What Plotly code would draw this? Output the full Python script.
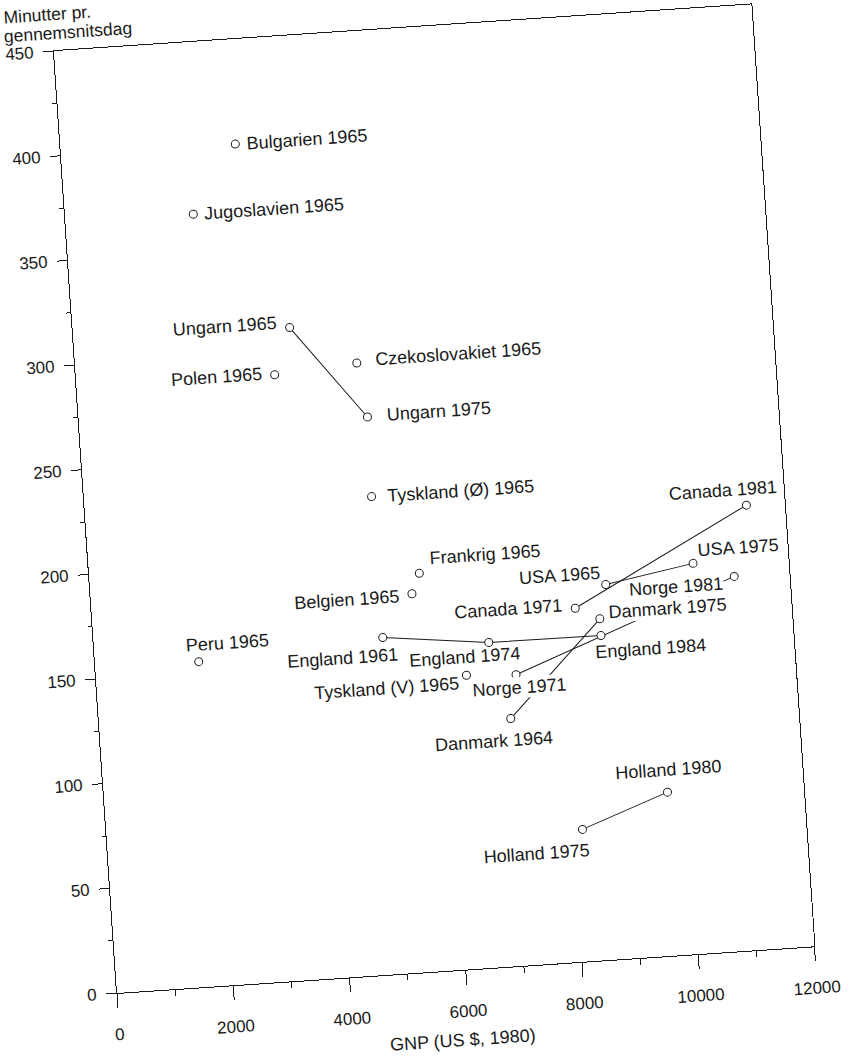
import plotly.graph_objects as go

countries = ["Bulgarien", "Jugoslavien", "Ungarn", "Czekoslovakiet", "Polen", "Ungarn",
             "Tyskland (Ø)", "Canada", "Frankrig", "USA", "Norge", "Belgien", "USA",
             "Canada", "Danmark", "England", "England", "England", "Peru", "Tyskland (V)",
             "Norge", "Danmark", "Holland", "Holland"]
years = [1965, 1965, 1965, 1965, 1965, 1975, 1965, 1981, 1965, 1975, 1981, 1965, 1965,
         1971, 1975, 1984, 1961, 1974, 1965, 1965, 1971, 1964, 1980, 1975]
gnp = [3000, 2200, 3720, 4830, 3410, 4950, 4930, 11340, 5660, 10360, 11050, 5510, 8840,
       8290, 8700, 8700, 4960, 6770, 1780, 6350, 7200, 7060, 9660, 8160]
minutes = [400, 368, 311, 292, 289, 266, 228, 212, 190, 186, 178.5, 180.5, 178.7,
           168.4, 162.6, 154.6, 160.6, 154.9, 155, 140, 138.7, 118, 78, 63]

x_ticks = [0, 2000, 4000, 6000, 8000, 10000, 12000]
y_ticks = [0, 50, 100, 150, 200, 250, 300, 350, 400, 450]

x_title = "GNP (US $, 1980)"
y_title = ["Minutter pr.", "gennemsnitsdag"]

# label placement per point: (xanchor, xshift, yshift, white background)
placement = [
    ("left", 10, 0, False), ("left", 10, 0, False), ("right", -12, 6, False),
    ("left", 18, 2, False), ("right", -12, 2, False), ("left", 19, 1, False),
    ("left", 15, 0, False), ("center", -23, 16, False), ("left", 10, 14, False),
    ("left", 5, 13, False), ("right", -11, -6, True), ("right", -12, -2, False),
    ("right", -4, 12, False), ("right", -12, 4, False), ("left", 8, 6, True),
    ("left", -8, -16, False), ("right", 15, -18, False), ("center", -25, -13, False),
    ("left", -13, 17, False), ("right", -7, -8, False), ("center", 3, -13, True),
    ("center", -18, -22, False), ("center", 2, 22, False), ("right", 7, -21, False),
]

INK = "#1a1a1a"
FONT = "Liberation Sans, Arial, sans-serif"

fig = go.Figure()

# connect observations of the same country, in year order
for c in dict.fromkeys(countries):
    idx = sorted([i for i, n in enumerate(countries) if n == c], key=lambda i: years[i])
    if len(idx) > 1:
        fig.add_trace(go.Scatter(
            x=[gnp[i] for i in idx], y=[minutes[i] for i in idx],
            mode="lines", line=dict(color=INK, width=1), hoverinfo="skip"))

fig.add_trace(go.Scatter(
    x=gnp, y=minutes, mode="markers",
    marker=dict(symbol="circle", size=8, color="white", line=dict(color=INK, width=1)),
    text=[f"{c} {y}" for c, y in zip(countries, years)], hoverinfo="text"))

for i, (c, yr) in enumerate(zip(countries, years)):
    anchor, dx, dy, bg = placement[i]
    fig.add_annotation(
        x=gnp[i], y=minutes[i], text=f"{c} {yr}", showarrow=False,
        xanchor=anchor, yanchor="middle", xshift=dx, yshift=dy,
        font=dict(size=18, color=INK, family=FONT),
        bgcolor="white" if bg else None, borderpad=0)

fig.add_annotation(x=0.5, y=0, xref="paper", yref="paper", text=x_title,
                   showarrow=False, yanchor="middle", yshift=-70, xshift=-8,
                   font=dict(size=18, color=INK, family=FONT))
fig.add_annotation(x=-0.0717, y=1.0395, xref="paper", yref="paper", text=y_title[0],
                   showarrow=False, xanchor="left", yanchor="middle",
                   font=dict(size=17.5, color=INK, family=FONT))
fig.add_annotation(x=-0.0735, y=1.0195, xref="paper", yref="paper", text=y_title[1],
                   showarrow=False, xanchor="left", yanchor="middle",
                   font=dict(size=17.5, color=INK, family=FONT))

axis_common = dict(showgrid=False, zeroline=False, showline=True, mirror=True,
                   linecolor=INK, linewidth=1, ticks="outside", tickcolor=INK,
                   tickwidth=1, automargin=False,
                   tickfont=dict(size=17, color=INK, family=FONT))

fig.update_xaxes(range=[0, 12000], tickmode="array", tickvals=x_ticks,
                 ticktext=[str(v) for v in x_ticks], ticklen=14,
                 ticklabelstandoff=12,
                 minor=dict(dtick=1000, ticks="outside", ticklen=6, tickcolor=INK),
                 **axis_common)
fig.update_yaxes(range=[0, 450], tickmode="array", tickvals=y_ticks,
                 ticktext=[str(v) for v in y_ticks], ticklen=10,
                 ticklabelstandoff=6,
                 minor=dict(dtick=25, ticks="outside", ticklen=4, tickcolor=INK),
                 **axis_common)

fig.update_layout(
    width=860, height=1160,
    margin=dict(l=117, r=44, t=89, b=127),
    showlegend=False,
    plot_bgcolor="white", paper_bgcolor="white",
    font=dict(family=FONT, color=INK),
)

# the scanned page is tilted a few degrees; turn the drawing the same way
tilt = (
    "document.documentElement.style.overflow='hidden';"
    "document.body.style.margin='0';document.body.style.overflow='hidden';"
    "var gd=document.getElementById('{plot_id}');"
    "gd.style.transformOrigin='117px 1033px';"
    "gd.style.transform='translate(0px,-40px) rotate(-3.83deg)';"
)

fig.write_html("out.html", post_script=tilt)
